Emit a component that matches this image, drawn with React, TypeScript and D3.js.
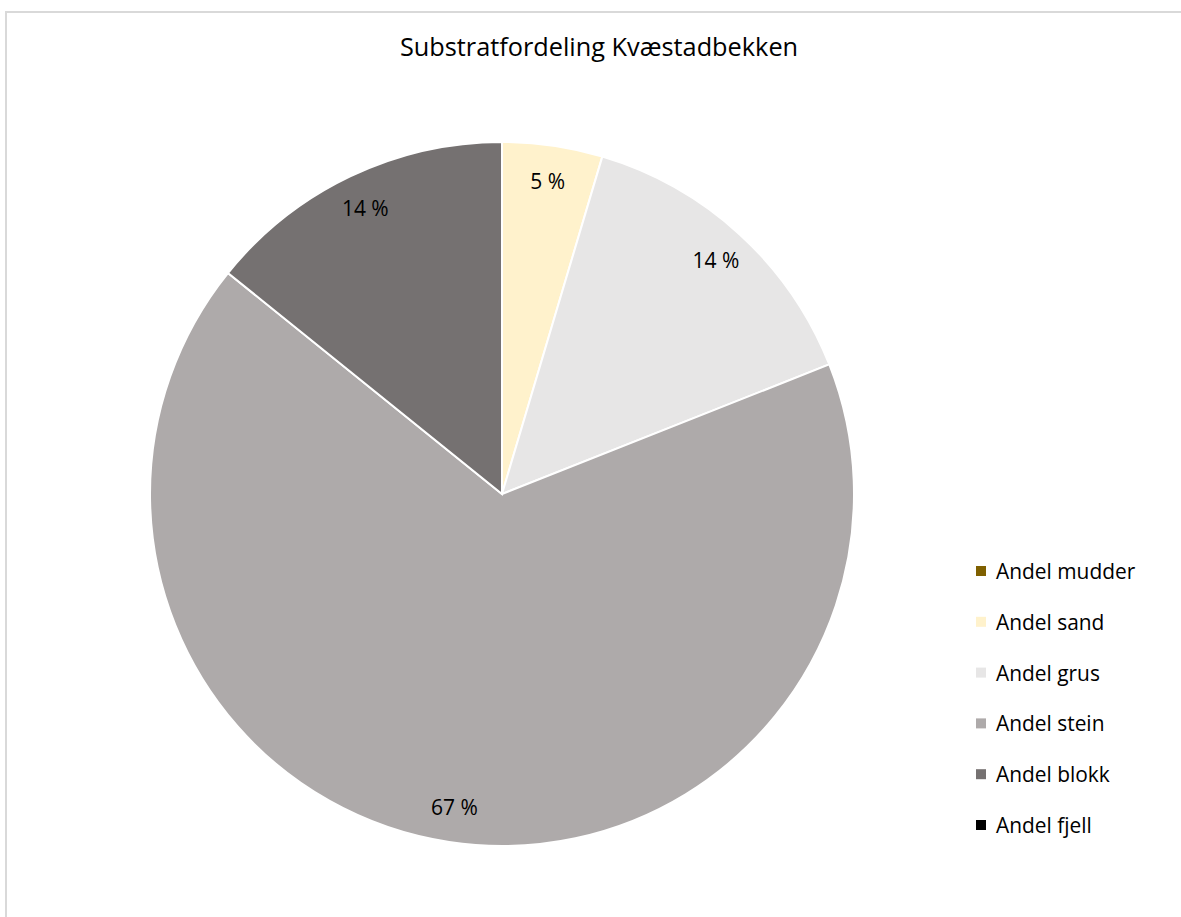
import React from "react";
import * as d3 from "d3";

const categories = ["Andel mudder", "Andel sand", "Andel grus", "Andel stein", "Andel blokk", "Andel fjell"];
const values = [0, 4.6, 14.4, 66.8, 14.2, 0];
const colors = ["#7F6000", "#FFF2CC", "#E7E6E6", "#AEAAAA", "#757171", "#000000"];
const title = "Substratfordeling Kvæstadbekken";

const W = 1181;
const H = 917;
const cx = 502;
const cy = 494;
const R = 352;

export default function App() {
  const total = d3.sum(values);
  const pie = d3.pie<number>().sort(null).value((d) => d);
  const arcs = pie(values);
  const arc = d3.arc<d3.PieArcDatum<number>>().innerRadius(0).outerRadius(R);
  const labelArc = d3.arc<d3.PieArcDatum<number>>().innerRadius(R * 0.9).outerRadius(R * 0.9);
  const font = "'Open Sans', Lato, sans-serif";
  return (
    <svg width={W} height={H} style={{ position: "absolute", left: 0, top: 0, background: "#fff" }}>
      <rect x={6} y={12} width={W} height={H} fill="#fff" stroke="#D9D9D9" strokeWidth={2} />
      <text x={599} y={56} textAnchor="middle" fontFamily={font} fontSize={25.3} fill="#000">{title}</text>
      <g>
        {arcs.map((a, i) =>
          a.value > 0 ? (
            <path key={i} d={arc(a) as string} transform={`translate(${cx},${cy})`} fill={colors[i]} stroke="#fff" strokeWidth={2} />
          ) : null
        )}
        {arcs.map((a, i) => {
          if (a.value <= 0) return null;
          const [x, y] = labelArc.centroid(a);
          return (
            <text key={"l" + i} x={cx + x} y={cy + y} textAnchor="middle" dominantBaseline="central" fontFamily={font} fontSize={21} fill="#000">
              {`${Math.round((a.value / total) * 100)} %`}
            </text>
          );
        })}
      </g>
      <g>
        {categories.map((c, i) => (
          <g key={c} transform={`translate(976, ${571 + i * 50.8})`}>
            <rect x={0} y={-5} width={10} height={10} fill={colors[i]} />
            <text x={20} y={0} dominantBaseline="central" fontFamily={font} fontSize={20.9} fill="#000">{c}</text>
          </g>
        ))}
      </g>
    </svg>
  );
}
